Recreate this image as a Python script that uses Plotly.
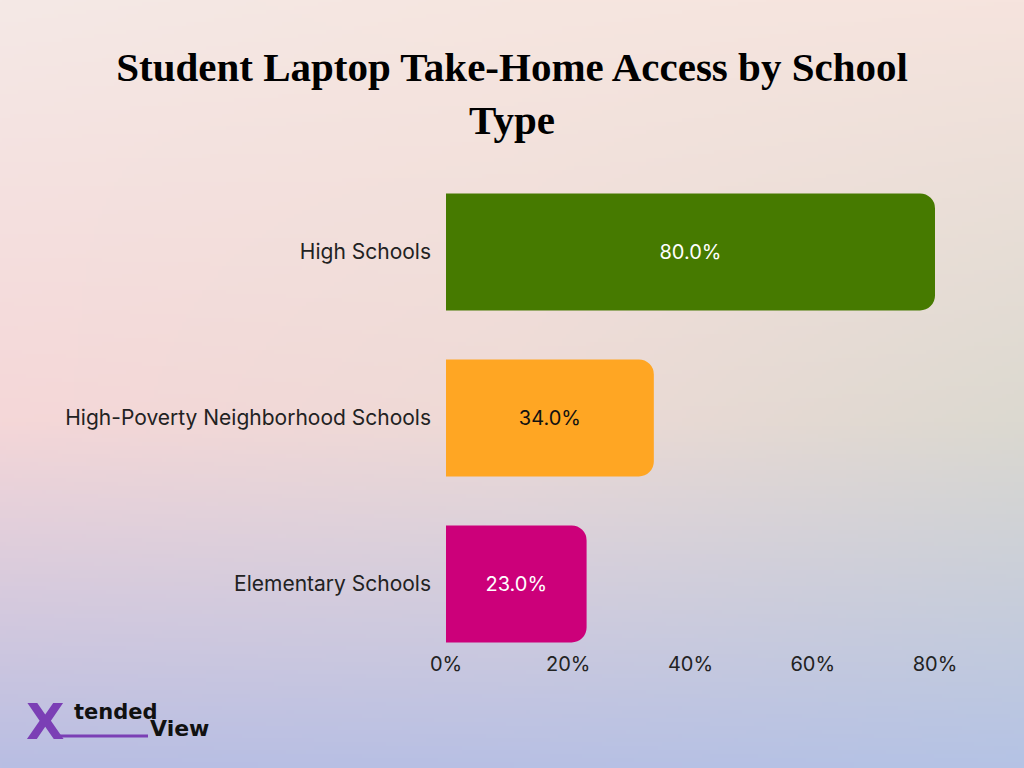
import base64, struct, zlib
import numpy as np
import plotly.graph_objects as go

# ---- data ----
categories = ["Elementary Schools", "High-Poverty Neighborhood Schools", "High Schools"]
values = [23.0, 34.0, 80.0]
bar_colors = ["#CC007A", "#FFA623", "#467A00"]
text_colors = ["#FFFFFF", "#111111", "#FFFFFF"]
tick_vals = [0, 20, 40, 60, 80]
tick_text = ["0%", "20%", "40%", "60%", "80%"]
title_text = "Student Laptop Take-Home Access by School<br>Type"

# ---- gradient background image ----
W, H = 256, 192
grid = np.array([
    [[244, 233, 230], [246, 230, 224], [246, 228, 222]],
    [[245, 215, 216], [238, 218, 214], [220, 217, 208]],
    [[185, 190, 227], [184, 192, 228], [181, 195, 229]],
], dtype=float)
ys = np.array([0.0, 0.55, 1.0])
xs = np.array([0.0, 0.5, 1.0])
yy = np.linspace(0, 1, H)
xx = np.linspace(0, 1, W)
img = np.zeros((H, W, 3))
for c in range(3):
    rows = np.array([np.interp(xx, xs, grid[i, :, c]) for i in range(3)])
    for j in range(W):
        img[:, j, c] = np.interp(yy, ys, rows[:, j])
img = img.clip(0, 255).astype(np.uint8)

def png_bytes(a):
    h, w, _ = a.shape
    raw = b"".join(b"\x00" + a[r].tobytes() for r in range(h))
    def chunk(t, d):
        c = struct.pack(">I", len(d)) + t + d
        return c + struct.pack(">I", zlib.crc32(t + d) & 0xffffffff)
    return (b"\x89PNG\r\n\x1a\n" + chunk(b"IHDR", struct.pack(">IIBBBBB", w, h, 8, 2, 0, 0, 0))
            + chunk(b"IDAT", zlib.compress(raw, 9)) + chunk(b"IEND", b""))

bg_uri = "data:image/png;base64," + base64.b64encode(png_bytes(img)).decode()

PW, PH, ML, MB = 489, 481, 446, 118

def px(xp):
    return (xp - ML) / PW

def py(yp):
    return (768 - MB - yp) / PH

fig = go.Figure()
fig.add_trace(go.Bar(
    x=values, y=categories, orientation="h",
    marker=dict(color=bar_colors, line=dict(width=0), cornerradius=15),
    text=[f"{v:.1f}%" for v in values],
    textposition="inside", insidetextanchor="middle",
    textfont=dict(family="Inter", size=20, color=text_colors),
    hoverinfo="skip",
))

fig.update_layout(
    width=1024, height=768,
    margin=dict(l=ML, r=89, t=169, b=MB),
    paper_bgcolor="rgba(0,0,0,0)", plot_bgcolor="rgba(0,0,0,0)",
    bargap=0.295, showlegend=False,
    title=dict(text=title_text, x=0.5, xanchor="center", y=0.895, yanchor="top",
               font=dict(family="Liberation Serif", size=41, color="#000000", weight="bold")),
    xaxis=dict(range=[0, 80], tickvals=tick_vals, ticktext=tick_text, showgrid=False,
               zeroline=False, showline=False, ticks="", fixedrange=True,
               tickfont=dict(family="Inter", size=20, color="#222222")),
    yaxis=dict(categoryorder="array", categoryarray=categories, range=[-0.398, 2.5],
               showgrid=False, zeroline=False, showline=False, ticks="", ticklabelstandoff=14,
               fixedrange=True,
               tickfont=dict(family="Inter", size=21, color="#222222")),
    images=[dict(source=bg_uri, xref="paper", yref="paper", x=px(0), y=py(0),
                 sizex=1024 / PW, sizey=768 / PH, xanchor="left", yanchor="top",
                 sizing="stretch", layer="below")],
)

# logo
fig.add_annotation(text="<b>X</b>", xref="paper", yref="paper", x=px(24), y=py(722),
                   xanchor="left", yanchor="middle", showarrow=False,
                   font=dict(family="DejaVu Sans", size=50, color="#7B3FB5"))
fig.add_annotation(text="<b>tended</b>", xref="paper", yref="paper", x=px(72), y=py(712),
                   xanchor="left", yanchor="middle", showarrow=False,
                   font=dict(family="DejaVu Sans", size=21, color="#111111"))
fig.add_annotation(text="<b>View</b>", xref="paper", yref="paper", x=px(148), y=py(728),
                   xanchor="left", yanchor="middle", showarrow=False,
                   font=dict(family="DejaVu Sans", size=22, color="#111111"))
fig.add_shape(type="line", xref="paper", yref="paper",
              x0=px(56), x1=px(148), y0=py(736), y1=py(736),
              line=dict(color="#7B3FB5", width=3))

fig.write_html("out.html", config={"displayModeBar": False},
               post_script="document.body.style.margin='0';")
